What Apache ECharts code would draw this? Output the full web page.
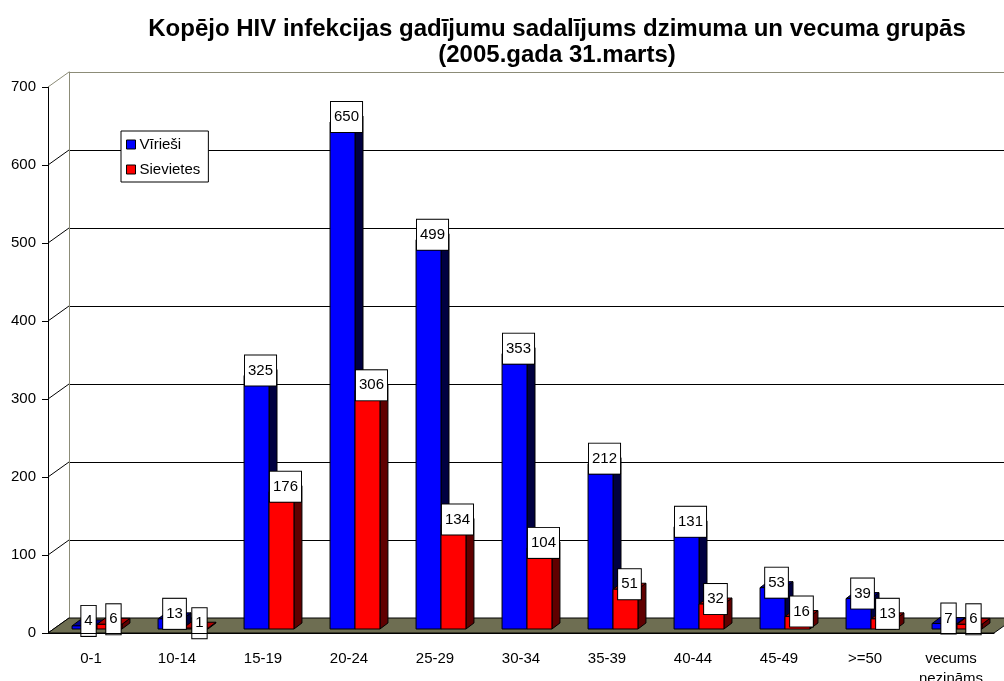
<!DOCTYPE html>
<html>
<head>
<meta charset="utf-8">
<script src="https://cdn.jsdelivr.net/npm/echarts@6/dist/echarts.min.js"></script>
<style>
  html, body { margin: 0; padding: 0; background: #fff; }
  #chart { width: 1004px; height: 681px; }
</style>
</head>
<body>
<div id="chart"></div>
<script>
// age groups and counts
const categories = ['0-1', '10-14', '15-19', '20-24', '25-29', '30-34', '35-39', '40-44', '45-49', '>=50', 'vecums\nnezināms']
const males = [4, 13, 325, 650, 499, 353, 212, 131, 53, 39, 7]
const females = [6, 1, 176, 306, 134, 104, 51, 32, 16, 13, 6]
const yTicks = [0, 100, 200, 300, 400, 500, 600, 700]

// fake 3D: depth of the box and of the bars, in px
const WALL_DX = 21
const WALL_DY = 15
const BAR_SHIFT_X = 6
const BAR_SHIFT_Y = 4
const BAR_DX = 8
const BAR_DY = 6
const BAR_FRAC = 0.29

const font = '"Liberation Sans", Arial, sans-serif'

const colors = [
  { front: '#0000ff', side: '#000040', top: '#000090' },
  { front: '#ff0000', side: '#600000', top: '#b00000' }
]

function barBox (api, idx, val, which) {
  const base = api.coord([idx, 0])
  const top = api.coord([idx, val])
  const w = api.size([1, 0])[0] * BAR_FRAC
  const x0 = base[0] + BAR_SHIFT_X - (which === 0 ? w : 0)
  return { x0: x0, x1: x0 + w, yb: base[1] - BAR_SHIFT_Y, yt: top[1] - BAR_SHIFT_Y, w: w }
}

function barRenderer (which) {
  const c = colors[which]
  return function (params, api) {
    const b = barBox(api, api.value(0), api.value(1), which)
    const line = { stroke: '#000', lineWidth: 1 }
    return {
      type: 'group',
      children: [
        {
          type: 'polygon',
          shape: { points: [[b.x1, b.yt], [b.x1 + BAR_DX, b.yt - BAR_DY], [b.x1 + BAR_DX, b.yb - BAR_DY], [b.x1, b.yb]] },
          style: Object.assign({ fill: c.side }, line)
        },
        {
          type: 'polygon',
          shape: { points: [[b.x0, b.yt], [b.x1, b.yt], [b.x1 + BAR_DX, b.yt - BAR_DY], [b.x0 + BAR_DX, b.yt - BAR_DY]] },
          style: Object.assign({ fill: c.top }, line)
        },
        {
          type: 'rect',
          shape: { x: b.x0, y: b.yt, width: b.w, height: b.yb - b.yt },
          style: Object.assign({ fill: c.front }, line)
        }
      ]
    }
  }
}

const labelData = []
males.forEach((v, i) => labelData.push([i, v, 0]))
females.forEach((v, i) => labelData.push([i, v, 1]))

const chart = echarts.init(document.getElementById('chart'))

chart.setOption({
  animation: false,
  backgroundColor: '#fff',
  title: {
    text: 'Kopējo HIV infekcijas gadījumu sadalījums dzimuma un vecuma grupās\n(2005.gada 31.marts)',
    left: 557,
    top: 16,
    padding: 0,
    textAlign: 'center',
    textStyle: { fontFamily: font, fontSize: 24, fontWeight: 'bold', color: '#000', lineHeight: 26 }
  },
  legend: {
    data: ['Vīrieši', 'Sievietes'],
    orient: 'vertical',
    left: 121,
    top: 131,
    padding: [6, 8, 5, 5],
    itemGap: 10,
    itemWidth: 9,
    itemHeight: 9,
    icon: 'rect',
    backgroundColor: '#fff',
    borderColor: '#000',
    borderWidth: 1,
    borderRadius: 0,
    itemStyle: { borderColor: '#000', borderWidth: 1 },
    textStyle: { fontFamily: font, fontSize: 15, color: '#000', padding: [0, 0, 0, -1] }
  },
  grid: [
    { left: 48, top: 87, width: 946, height: 546, outerBoundsMode: 'none', containLabel: false },
    { left: 48 + WALL_DX, top: 87 - WALL_DY, width: 946, height: 546, outerBoundsMode: 'none', containLabel: false }
  ],
  xAxis: [
    {
      type: 'category',
      gridIndex: 0,
      data: categories,
      z: 5,
      axisLine: { lineStyle: { color: '#000', width: 1 } },
      axisTick: { length: 7, lineStyle: { color: '#000' } },
      axisLabel: { fontFamily: font, fontSize: 15, color: '#000', margin: 16, lineHeight: 20, interval: 0 }
    },
    {
      type: 'category',
      gridIndex: 1,
      data: categories,
      position: 'top',
      axisLine: { lineStyle: { color: '#8c8c78', width: 1 } },
      axisTick: { show: false },
      axisLabel: { show: false }
    }
  ],
  yAxis: [
    {
      type: 'value',
      gridIndex: 0,
      min: 0,
      max: 700,
      interval: 100,
      axisLine: { show: true, lineStyle: { color: '#000' } },
      axisTick: { show: true, length: 6, lineStyle: { color: '#000' } },
      axisLabel: { fontFamily: font, fontSize: 15, color: '#000', margin: 12 },
      splitLine: { show: false }
    },
    {
      type: 'value',
      gridIndex: 1,
      min: 0,
      max: 700,
      interval: 100,
      axisLine: { show: true, lineStyle: { color: '#8c8c78' } },
      axisTick: { show: false },
      axisLabel: { show: false },
      splitLine: {
        show: true,
        lineStyle: { color: ['#000', '#000', '#000', '#000', '#000', '#000', '#000', '#8c8c78'], width: 1 }
      }
    }
  ],
  series: [
    {
      // connectors from the front ticks to the back wall
      type: 'custom',
      xAxisIndex: 0,
      yAxisIndex: 0,
      silent: true,
      data: yTicks.map(v => [0, v]),
      renderItem: function (params, api) {
        const x = params.coordSys.x
        const y = api.coord([0, api.value(1)])[1]
        return {
          type: 'line',
          shape: { x1: x, y1: y, x2: x + WALL_DX, y2: y - WALL_DY },
          style: { stroke: api.value(1) === 700 ? '#8c8c78' : '#000', lineWidth: 1 }
        }
      }
    },
    {
      // floor
      type: 'custom',
      xAxisIndex: 0,
      yAxisIndex: 0,
      silent: true,
      data: [[0, 0]],
      renderItem: function (params, api) {
        const cs = params.coordSys
        const y = cs.y + cs.height
        return {
          type: 'polygon',
          shape: { points: [[cs.x, y], [cs.x + cs.width, y], [cs.x + cs.width + WALL_DX, y - WALL_DY], [cs.x + WALL_DX, y - WALL_DY]] },
          style: { fill: '#6e6e52', stroke: '#000', lineWidth: 1 }
        }
      }
    },
    {
      name: 'Vīrieši',
      type: 'custom',
      xAxisIndex: 0,
      yAxisIndex: 0,
      itemStyle: { color: '#0000ff' },
      data: males.map((v, i) => [i, v]),
      encode: { x: 0, y: 1 },
      renderItem: barRenderer(0)
    },
    {
      name: 'Sievietes',
      type: 'custom',
      xAxisIndex: 0,
      yAxisIndex: 0,
      itemStyle: { color: '#ff0000' },
      data: females.map((v, i) => [i, v]),
      encode: { x: 0, y: 1 },
      renderItem: barRenderer(1)
    },
    {
      // value boxes
      type: 'custom',
      xAxisIndex: 0,
      yAxisIndex: 0,
      silent: true,
      data: labelData,
      encode: { x: 0, y: 1 },
      renderItem: function (params, api) {
        const v = api.value(1)
        const b = barBox(api, api.value(0), v, api.value(2))
        return {
          type: 'text',
          x: b.x0 + (b.w + BAR_DX) / 2,
          y: b.yt - BAR_DY + 1,
          style: {
            text: String(v),
            fontFamily: font,
            fontSize: 15,
            lineHeight: 16,
            fill: '#000',
            backgroundColor: '#fff',
            borderColor: '#000',
            borderWidth: 1,
            padding: [7, 3, 7, 3],
            align: 'center',
            verticalAlign: 'middle'
          }
        }
      }
    }
  ]
})
</script>
</body>
</html>
